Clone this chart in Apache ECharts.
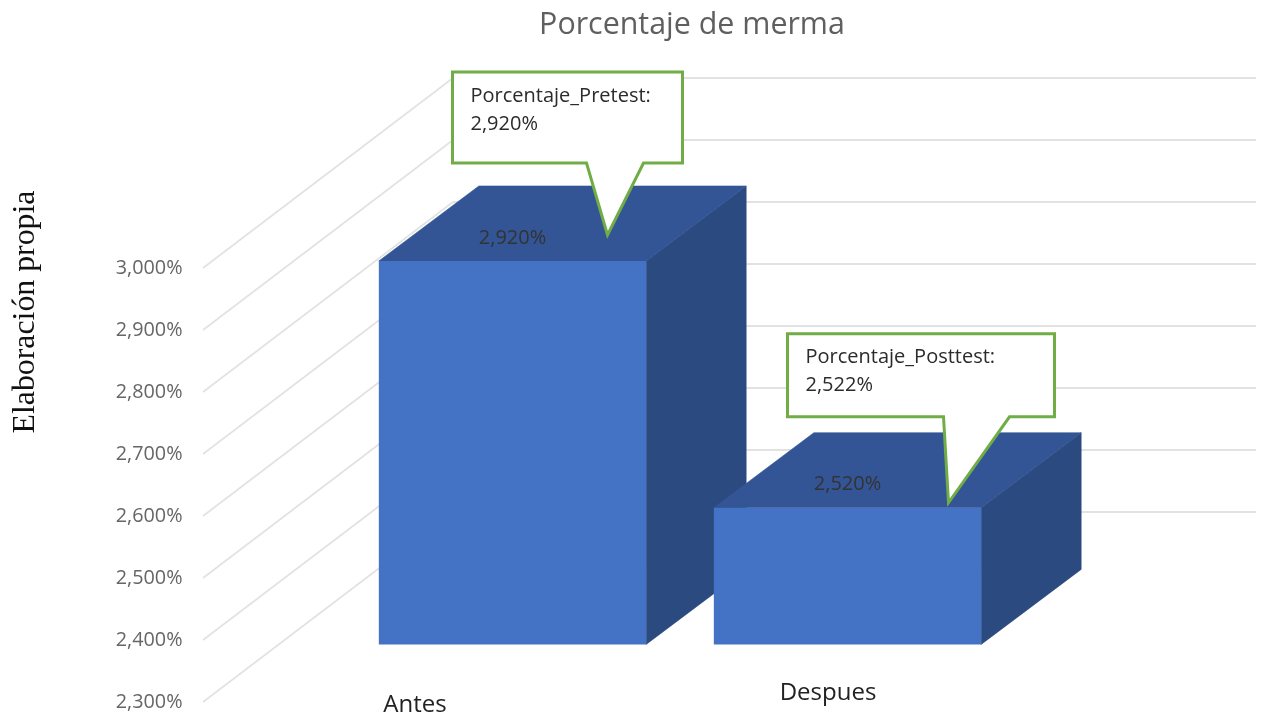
<!DOCTYPE html>
<html>
<head>
<meta charset="utf-8">
<style>html,body{margin:0;padding:0;background:#fff}#c{width:1266px;height:721px}</style>
<script src="https://cdn.jsdelivr.net/npm/echarts@6/dist/echarts.min.js"></script>
</head>
<body>
<div id="c"></div>
<script>
const titleText = 'Porcentaje de merma';
const sideText = 'Elaboración propia';
const categories = ['Antes', 'Despues'];
const barValues = [2.92, 2.522];
const barLabels = ['2,920%', '2,520%'];
const seriesNames = ['Porcentaje_Pretest', 'Porcentaje_Posttest'];
const calloutLabels = ['2,920%', '2,522%'];
const yTicks = [2.3, 2.4, 2.5, 2.6, 2.7, 2.8, 2.9, 3.0];

// 3-D look: offsets of the chart's projection, in pixels
const wall = { left: 67.5, dx: 250, dy: -190, right: 1256 };
const front = { dx: 74.5, dy: -56.6 };
const depth = { dx: 100, dy: -75 };
const faceFront = '#4472C4', faceTop = '#335595', faceSide = '#2B4A7F';
const green = '#70AD47', gridColor = '#E2E2E2';
const callouts = [
  { tipX: 229, tipY: -26, l: -155, r: 75, t: -163, b: -72, bl: -21, br: 36, tx: 18, ty1: 24, ty2: 52 },
  { tipX: 235, tipY: -5, l: -161, r: 106, t: -169, b: -86, bl: -5, br: 61, tx: 18, ty1: 24, ty2: 52 }
];
const uiFont = '"Open Sans", sans-serif';

const chart = echarts.init(document.getElementById('c'), null, { renderer: 'canvas' });

function renderWall(params, api) {
  const cs = params.coordSys;
  const p = api.coord([0, api.value(1)]);
  const x0 = cs.x - wall.left, y0 = p[1];
  const x1 = x0 + wall.dx, y1 = y0 + wall.dy;
  return {
    type: 'group',
    children: [
      { type: 'line', shape: { x1: x0, y1: y0, x2: x1, y2: y1 }, style: { stroke: gridColor, lineWidth: 1.6 } },
      { type: 'line', shape: { x1: x1, y1: y1, x2: wall.right, y2: y1 }, style: { stroke: gridColor, lineWidth: 2 } }
    ]
  };
}

function renderBar(params, api) {
  const i = params.dataIndex;
  const top = api.coord([i, api.value(1)]);
  const base = api.coord([i, yTicks[0]]);
  const w = api.size([1, 0])[0] * 0.798;
  const xl = top[0] - w / 2 + front.dx, xr = xl + w;
  const yt = top[1] + front.dy, yb = base[1] + front.dy - 1;
  const dx = depth.dx, dy = depth.dy;
  return {
    type: 'group',
    children: [
      { type: 'polygon', shape: { points: [[xr, yt], [xr + dx, yt + dy], [xr + dx, yb + dy], [xr, yb]] }, style: { fill: faceSide, stroke: faceSide, lineWidth: 0.6 } },
      { type: 'polygon', shape: { points: [[xl, yt], [xl + dx, yt + dy], [xr + dx, yt + dy], [xr, yt]] }, style: { fill: faceTop, stroke: faceTop, lineWidth: 0.6 } },
      { type: 'rect', shape: { x: xl, y: yt, width: w, height: yb - yt }, style: { fill: faceFront } },
      { type: 'text', x: (xl + xr) / 2, y: yt - 23, style: { text: barLabels[i], fill: '#333', font: '20px ' + uiFont, align: 'center', verticalAlign: 'middle' } }
    ]
  };
}

function renderCallout(params, api) {
  const i = params.dataIndex, c = callouts[i];
  const top = api.coord([i, api.value(1)]);
  const w = api.size([1, 0])[0] * 0.8;
  const ax = top[0] - w / 2 + front.dx + c.tipX, ay = top[1] + front.dy + c.tipY;
  const pts = [
    [ax + c.l, ay + c.t], [ax + c.r, ay + c.t], [ax + c.r, ay + c.b], [ax + c.br, ay + c.b],
    [ax, ay], [ax + c.bl, ay + c.b], [ax + c.l, ay + c.b]
  ];
  const tx = ax + c.l + c.tx, ty = ay + c.t;
  return {
    type: 'group',
    children: [
      { type: 'polygon', shape: { points: pts }, style: { fill: '#fff', stroke: green, lineWidth: 3, lineJoin: 'miter' } },
      { type: 'text', x: tx, y: ty + c.ty1, style: { text: seriesNames[i] + ':', fill: '#2b2b2b', font: '20px ' + uiFont, verticalAlign: 'middle' } },
      { type: 'text', x: tx, y: ty + c.ty2, style: { text: calloutLabels[i], fill: '#2b2b2b', font: '20px ' + uiFont, verticalAlign: 'middle' } }
    ]
  };
}

chart.setOption({
  animation: false,
  backgroundColor: '#fff',
  title: {
    text: titleText, left: 692, top: 25, padding: 0, textAlign: 'center', textVerticalAlign: 'middle',
    textStyle: { fontFamily: '"Open Sans", sans-serif', fontSize: 30.4, fontWeight: 'normal', color: '#5F5F5F' }
  },
  grid: { left: 270.5, top: 268, width: 670, height: 434 },
  xAxis: {
    type: 'category', data: categories,
    axisLine: { show: false }, axisTick: { show: false },
    axisLabel: {
      margin: -21, interval: 0,
      formatter: (v, i) => (i === 0 ? '{s| }\n{a|' : '{b|') + v + '}',
      rich: {
        s: { fontSize: 4, lineHeight: 12 },
        a: { fontFamily: '"Open Sans", sans-serif', fontSize: 24, lineHeight: 24, color: '#222', padding: [0, 46, 0, 0] },
        b: { fontFamily: '"Open Sans", sans-serif', fontSize: 24, lineHeight: 24, color: '#222', padding: [0, 0, 0, 110] }
      }
    }
  },
  yAxis: {
    type: 'value', min: 2.3, max: 3.0, interval: 0.1,
    axisLine: { show: false }, axisTick: { show: false }, splitLine: { show: false },
    axisLabel: {
      margin: 88, color: '#666', fontFamily: '"Open Sans", sans-serif', fontSize: 19.8, padding: [3, 0, 0, 0],
      formatter: v => v.toFixed(3).replace('.', ',') + '%'
    }
  },
  graphic: [{
    type: 'text', x: 26, y: 312, rotation: Math.PI / 2,
    style: { text: sideText, font: '31.8px "Liberation Serif", serif', fill: '#111', align: 'center', verticalAlign: 'middle' }
  }],
  series: [
    { type: 'custom', z: 1, silent: true, renderItem: renderWall, encode: { x: 0, y: 1 }, data: yTicks.map(t => [0, t]) },
    { type: 'custom', z: 2, silent: true, renderItem: renderBar, encode: { x: 0, y: 1 }, data: barValues.map((v, i) => [i, v]) },
    { type: 'custom', z: 3, silent: true, renderItem: renderCallout, encode: { x: 0, y: 1 }, data: barValues.map((v, i) => [i, v]) }
  ]
});
</script>
</body>
</html>
